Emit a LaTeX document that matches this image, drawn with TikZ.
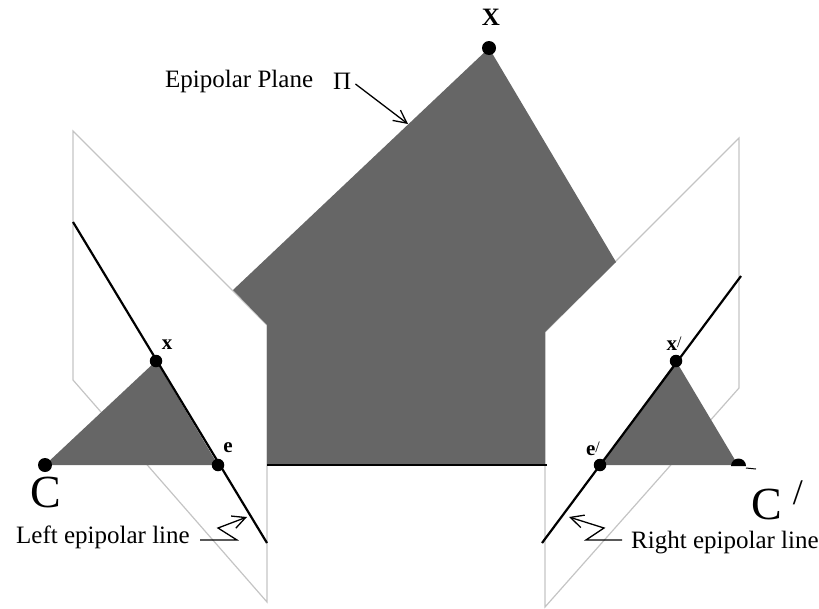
\documentclass[tikz,border=0pt]{standalone}
\usepackage{fontspec}
\setmainfont{Liberation Serif}
\usetikzlibrary{arrows.meta}
\definecolor{planegray}{HTML}{666666}
\definecolor{framegray}{HTML}{C4C4C4}
\tikzset{
    dot/.style={circle, fill=black, inner sep=0pt, minimum size=14pt},
    smalldot/.style={circle, fill=black, inner sep=0pt, minimum size=12.5pt},
    caption/.style={inner sep=0pt, font=\fontsize{25}{30}\selectfont},
    ptlabel/.style={inner sep=0pt, font=\fontsize{21}{24}\selectfont\bfseries},
    camlabel/.style={inner sep=0pt, font=\fontsize{46}{50}\selectfont},
    frame/.style={framegray, line width=1.2pt},
    epiline/.style={black, line width=2.2pt},
    pointer/.style={black, line width=1.3pt, -{Straight Barb[length=13pt, width=13pt]}}
}
\begin{document}
\begin{tikzpicture}[x=1pt, y=-1pt]
    \useasboundingbox (0,0) rectangle (819,608);

    % image planes
    \draw[frame] (73,131) -- (267,325) -- (267,602) -- (73,380) -- cycle;
    \draw[frame] (739,138) -- (545,332) -- (545,607) -- (739,388) -- cycle;

    % epipolar plane
    \fill[planegray] (489,48) -- (616,262) -- (545,332) -- (545,465) -- (267,465) -- (267,325) -- (233,290) -- cycle;

    \coordinate (planeL) at (267,465);
    \coordinate (planeR) at (547,465);
    \draw[line width=2pt] (planeL) -- (planeR);

    % left side
    \coordinate (lineLa) at (73,222);
    \coordinate (lineLb) at (267,543);
    \fill[planegray] (45,465) -- (156,361) -- (218,465) -- cycle;
    \draw[epiline] (lineLa) -- (lineLb);
    \node[dot] (C) at (45,465) {};
    \node[smalldot] (x) at (156,361) {};
    \node[smalldot] (e) at (218,465) {};

    % right side
    \coordinate (lineRa) at (741,276);
    \coordinate (lineRb) at (542,543);
    \fill[planegray] (600,465) -- (676,361) -- (738,465) -- cycle;
    \draw[epiline] (lineRa) -- (lineRb);
    \node[smalldot] (xp) at (676,361) {};
    \node[smalldot] (ep) at (600,465) {};
    \fill (731,466) arc (180:360:7.5) -- cycle;
    \coordinate (tickA) at (746,468);
    \coordinate (tickB) at (756,469);
    \draw[line width=1pt] (tickA) -- (tickB);

    % labels
    \node[ptlabel, font=\fontsize{25}{30}\selectfont\bfseries] (Xlabel) at (491,17) {X};
    \node[dot] (X) at (489,48) {};
    \node[ptlabel] (xlabel) at (167,345) {x};
    \node[ptlabel] (elabel) at (228,448) {e};
    \node[ptlabel] (xplabel) at (674,344) {x\raisebox{3pt}{\fontsize{16}{16}\selectfont\mdseries /}};
    \node[ptlabel] (eplabel) at (593,449) {e\raisebox{3pt}{\fontsize{16}{16}\selectfont\mdseries /}};
    \node[camlabel] (Clabel) at (46,492) {C};
    \node[camlabel, anchor=west] (Cplabel) at (751,500) {C\hspace{11pt}\raisebox{15pt}{\fontsize{36}{36}\selectfont /}};

    \node[caption, anchor=west] (planetext) at (165,81) {Epipolar Plane};
    \node[caption, anchor=west] (pitext) at (333,81) {Π};
    \node[caption, anchor=west] (lefttext) at (16,537) {Left epipolar line};
    \node[caption, anchor=west] (righttext) at (631,543) {Right epipolar line};

    % pointers
    \coordinate (planetip) at (408,124);
    \coordinate (lefttip) at (247,517);
    \coordinate (righttip) at (569,517);
    \draw[pointer] (pitext.east) ++(4,3) -- (planetip);
    \draw[pointer] (200,540) -- (237,540) -- (218,528) -- (lefttip);
    \draw[pointer] (622,540) -- (586,540) -- (604,528) -- (righttip);
\end{tikzpicture}
\end{document}
